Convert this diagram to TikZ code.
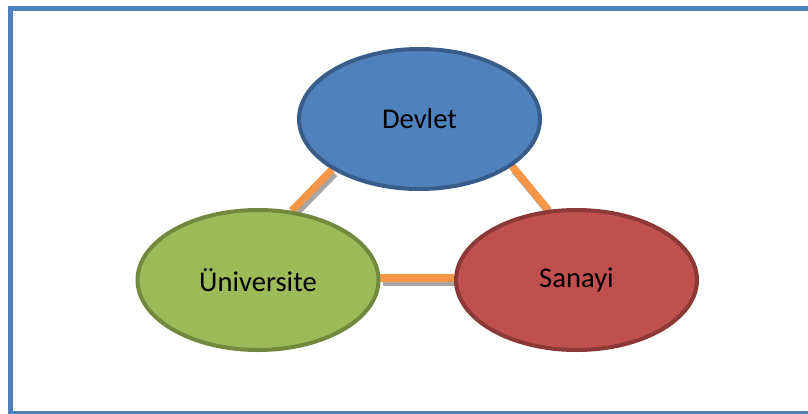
\documentclass[tikz,border=0pt]{standalone}
\usepackage{fontspec}
\setmainfont{Carlito}
\usetikzlibrary{shapes.geometric,backgrounds}

\definecolor{frameblue}{HTML}{4F81BD}
\definecolor{devletfill}{HTML}{4F81BD}
\definecolor{devletline}{HTML}{385D8A}
\definecolor{unifill}{HTML}{9BBB59}
\definecolor{uniline}{HTML}{71893F}
\definecolor{sanayifill}{HTML}{C0504D}
\definecolor{sanayiline}{HTML}{8C3836}
\definecolor{linkorange}{HTML}{F79646}
\definecolor{shadowgray}{HTML}{A6A6A6}

\begin{document}
\begin{tikzpicture}[x=0.5pt, y=-0.5pt,
		partner/.style={ellipse, line width=2pt, inner sep=0pt,
			minimum width=120.5pt, minimum height=70pt,
			font=\fontsize{14.3}{17}\selectfont},
		link/.style={draw=linkorange, line width=3.75pt},
		linkshadow/.style={draw=shadowgray, line width=3.75pt,
			transform canvas={xshift=1.25pt, yshift=-2pt}}]

				\clip (0, 0) rectangle (808, 413);
				\draw[frameblue, line width=2.5pt] (10, 8) rectangle (812, 413.5);

				\node[partner, fill=devletfill, draw=devletline] (devlet)     at (419.5, 119) {Devlet};
				\node[partner, fill=unifill,    draw=uniline]    (universite) at (258, 280)   {Üniversite};
				\node[partner, fill=sanayifill, draw=sanayiline] (sanayi)     at (576.5, 280) {Sanayi};

				% links behind the ellipses
				\begin{scope}[on background layer]
					\foreach \a/\b in {devlet.210/universite.64, devlet.333/sanayi.112, universite.1/sanayi.179} {
						\draw[linkshadow] (\a) -- (\b);
						\draw[link]       (\a) -- (\b);
					}
				\end{scope}

			\end{tikzpicture}
\end{document}
